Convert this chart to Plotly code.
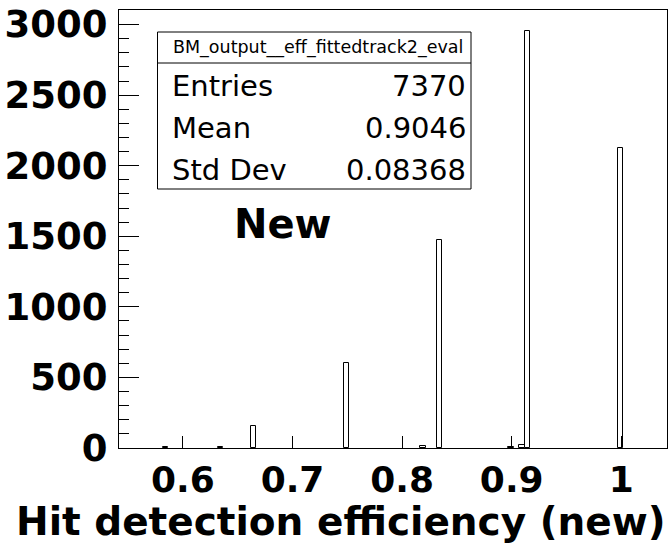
import plotly.graph_objects as go

# ---- data ----
bin_centers = [0.5842, 0.6342, 0.6642, 0.7492, 0.8192, 0.8342, 0.8992, 0.9092, 0.9142, 0.9992]
counts = [8, 7, 155, 605, 12, 1475, 8, 20, 2955, 2125]
bin_width = 0.005
x_range = [0.541667, 1.041667]
y_max = 3103
x_ticks = [0.6, 0.7, 0.8, 0.9, 1.0]
x_tick_labels = ["0.6", "0.7", "0.8", "0.9", "1"]
y_ticks = [0, 500, 1000, 1500, 2000, 2500, 3000]
y_tick_labels = ["0", "500", "1000", "1500", "2000", "2500", "3000"]
stats_title = "BM_output__eff_fittedtrack2_eval"
stats_labels = ["Entries", "Mean", "Std Dev"]
stats_values = ["7370", "0.9046", "0.08368"]
x_title = "Hit detection efficiency (new)"
label_text = "New"

W, H = 670, 544
ML, MR, MT, MB = 119, 3, 10, 96
PW, PH = W - ML - MR, H - MT - MB


def px(x):
    return (x - ML) / PW


def py(y):
    return (H - MB - y) / PH


FONT = "DejaVu Sans"

fig = go.Figure()
fig.add_trace(go.Bar(
    x=bin_centers, y=counts, width=bin_width,
    marker=dict(color="white", line=dict(color="black", width=1)),
    showlegend=False,
))

shapes = []
# stats box
bx0, bx1, by0, by1, bsep = 157.5, 471, 32, 189, 63
shapes.append(dict(type="rect", xref="paper", yref="paper",
                   x0=px(bx0), x1=px(bx1), y0=py(by1), y1=py(by0),
                   line=dict(color="black", width=1), fillcolor="white", layer="above"))
shapes.append(dict(type="line", xref="paper", yref="paper",
                   x0=px(bx0), x1=px(bx1), y0=py(bsep), y1=py(bsep),
                   line=dict(color="black", width=1), layer="above"))

annotations = []
annotations.append(dict(text=stats_title, xref="paper", yref="paper",
                        x=px((bx0 + bx1) / 2 + 4), y=py((by0 + bsep) / 2),
                        xanchor="center", yanchor="middle", showarrow=False,
                        font=dict(family=FONT, size=17.5, color="black")))
row_h = (by1 - bsep) / 3
for i, (lab, val) in enumerate(zip(stats_labels, stats_values)):
    yc = bsep + row_h * (i + 0.5) + 2
    annotations.append(dict(text=lab, xref="paper", yref="paper",
                            x=px(170), y=py(yc), xanchor="left", yanchor="middle",
                            showarrow=False, font=dict(family=FONT, size=29, color="black")))
    annotations.append(dict(text=val, xref="paper", yref="paper",
                            x=px(468), y=py(yc), xanchor="right", yanchor="middle",
                            showarrow=False, font=dict(family=FONT, size=29, color="black")))

annotations.append(dict(text="<b>%s</b>" % label_text, xref="paper", yref="paper",
                        x=px(283), y=py(224), xanchor="center", yanchor="middle",
                        showarrow=False, font=dict(family=FONT, size=40, color="black")))

annotations.append(dict(text="<b>%s</b>" % x_title, xref="paper", yref="paper",
                        x=px(668), y=py(521), xanchor="right", yanchor="middle",
                        showarrow=False, font=dict(family=FONT, size=39, color="black")))

fig.update_layout(
    width=W, height=H,
    margin=dict(l=ML, r=MR, t=MT, b=MB, pad=0),
    paper_bgcolor="white", plot_bgcolor="white",
    bargap=0,
    shapes=shapes, annotations=annotations,
    xaxis=dict(range=x_range, tickvals=x_ticks, ticktext=x_tick_labels,
               ticks="inside", ticklen=12, tickcolor="black", tickwidth=1,
               showline=True, linecolor="black", linewidth=1, mirror=True,
               showgrid=False, zeroline=False,
               tickfont=dict(family=FONT, size=36, color="black", weight="bold"),
               ticklabelstandoff=0),
    yaxis=dict(range=[0, y_max], tickvals=y_ticks, ticktext=y_tick_labels,
               ticks="inside", ticklen=20, tickcolor="black", tickwidth=1,
               minor=dict(ticks="inside", ticklen=10, dtick=100, tickcolor="black", showgrid=False),
               showline=True, linecolor="black", linewidth=1, mirror=True,
               showgrid=False, zeroline=False,
               tickfont=dict(family=FONT, size=37, color="black", weight="bold"),
               ticklabelstandoff=3),
)

fig.write_html("out.html")
